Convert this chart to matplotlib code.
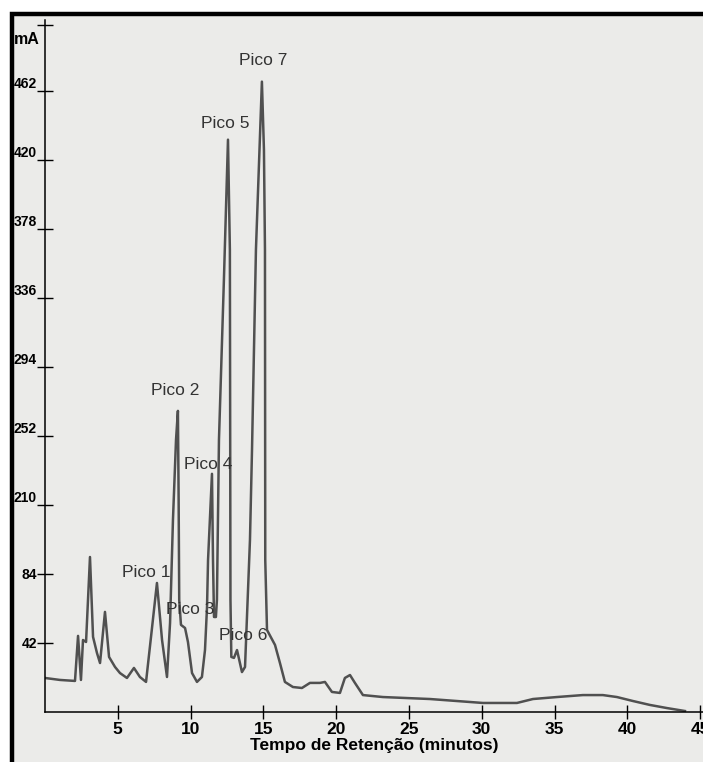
import matplotlib
matplotlib.use("Agg")
import matplotlib.pyplot as plt
from matplotlib.patches import Rectangle

plt.rcParams['font.family'] = ['Liberation Sans', 'DejaVu Sans']

# ---- data ----
time_min = [0.00, 1.03, 2.06, 2.27, 2.47, 2.61, 2.82, 3.09, 3.30, 3.57, 3.78, 4.12, 4.40,
            4.81, 5.15, 5.63, 6.11, 6.52, 6.94, 7.35, 7.69, 8.04, 8.38, 8.59, 8.79, 9.00,
            9.13, 9.18, 9.22, 9.34, 9.62, 9.82, 10.10, 10.44, 10.78, 10.99, 11.13, 11.20,
            11.47, 11.54, 11.61, 11.74, 11.81, 11.95, 12.29, 12.57, 12.70, 12.74, 12.80,
            12.98, 13.19, 13.53, 13.74, 14.08, 14.22, 14.49, 14.90, 15.04, 15.11, 15.13,
            15.25, 15.80, 16.14, 16.48, 17.03, 17.65, 18.20, 18.89, 19.23, 19.71, 20.26,
            20.60, 20.95, 21.29, 21.84, 23.21, 26.44, 30.08, 32.42, 33.52, 35.16, 36.95,
            38.32, 39.29, 40.38, 41.55, 42.72, 43.96]
signal_mA = [20.7, 19.5, 18.9, 46.3, 19.5, 43.8, 42.6, 94.3, 45.7, 35.9, 29.8, 60.9, 33.5,
             27.4, 23.7, 20.7, 26.8, 21.3, 18.3, 51.1, 78.5, 43.8, 21.3, 54.2, 116.9, 165.6,
             183.2, 129.0, 68.2, 53.0, 51.1, 42.6, 23.7, 18.3, 21.3, 37.7, 63.9, 92.5,
             144.9, 92.5, 57.8, 57.8, 68.2, 165.6, 263.0, 348.2, 281.2, 68.2, 33.5,
             32.9, 37.7, 24.3, 27.4, 104.7, 159.5, 281.2, 383.5, 342.1, 281.2, 92.5,
             49.9, 40.8, 29.8, 18.3, 15.2, 14.6, 17.7, 17.7, 18.3, 12.2, 11.6,
             20.7, 22.5, 17.7, 10.3, 9.1, 7.9, 5.5, 5.5, 7.9, 9.1, 10.3,
             10.3, 9.1, 6.7, 4.3, 2.4, 0.6]

ytick_pos = [42, 84, 126, 168, 210, 252, 294, 336, 378]
ytick_labels = ['42', '84', '210', '252', '294', '336', '378', '420', '462']
xticks = [5, 10, 15, 20, 25, 30, 35, 40, 45]

peak_names = ['Pico 1', 'Pico 2', 'Pico 3', 'Pico 4', 'Pico 5', 'Pico 6', 'Pico 7']
peak_label_t = [6.94, 8.93, 9.96, 11.2, 12.36, 13.6, 14.97]
peak_label_v = [84.6, 195.4, 62.1, 150.3, 357.9, 46.3, 396.3]

W, H = 703, 762
fig = plt.figure(figsize=(W / 100, H / 100), dpi=100)
fig.patch.set_facecolor('white')

# scanned page background with black frame (left & top)
fig.patches.append(Rectangle((12 / W, -0.1), 1.2, (H - 14) / H + 0.1,
                             transform=fig.transFigure, facecolor='#ebebe9',
                             edgecolor='black', lw=3.2, zorder=0))

ax = fig.add_axes([45 / W, 50 / H, (W - 45) / W, (712 - 20) / H])
ax.set_zorder(2)
ax.set_facecolor('none')
ax.set_xlim(0, 45.2)
ax.set_ylim(0, 421)

ax.plot(time_min, signal_mA, color='#505050', lw=1.8, solid_joinstyle='round')

for s in ['top', 'right']:
    ax.spines[s].set_visible(False)
for s in ['left', 'bottom']:
    ax.spines[s].set_color('black')
    ax.spines[s].set_linewidth(1.1)

ax.set_yticks(ytick_pos + [418])
ax.set_yticklabels(ytick_labels + [''])
ax.tick_params(axis='y', direction='inout', length=12, width=1, pad=0,
               labelsize=10)
for i, lab in enumerate(ax.get_yticklabels()):
    lab.set_fontweight('bold')
    if 2 <= i < len(ytick_labels):
        lab.set_va('bottom')

ax.set_xticks(xticks)
ax.set_xticklabels([str(x) for x in xticks])
ax.tick_params(axis='x', direction='inout', length=10, width=1, pad=2,
               labelsize=12.5)
for lab in ax.get_xticklabels():
    lab.set_fontweight('bold')

ax.set_xlabel('Tempo de Retenção (minutos)', fontsize=12.5, fontweight='bold',
              labelpad=1)

fig.text(27 / W, 1 - 40 / H, 'mA', ha='center', va='center', fontsize=11.5,
         fontweight='bold', zorder=3)

for name, t, v in zip(peak_names, peak_label_t, peak_label_v):
    ax.text(t, v, name, ha='center', va='center', fontsize=12.5, color='#333333')

fig.savefig('out.png', dpi=100)
